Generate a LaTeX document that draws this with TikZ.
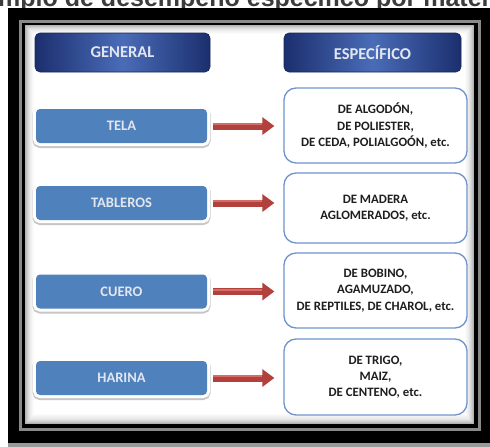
\documentclass[tikz,border=0pt]{standalone}
\usepackage{fontspec}
\setmainfont{Carlito}
\newfontfamily\titlefont{Liberation Sans}
\usetikzlibrary{arrows.meta}
\definecolor{navy}{HTML}{1B2F6E}
\definecolor{navymid}{HTML}{4A6CB8}
\definecolor{boxblue}{HTML}{4F81BD}
\definecolor{specline}{HTML}{6F93CF}
\definecolor{arrred}{HTML}{B2403C}
\definecolor{arrlight}{HTML}{D46C68}
\definecolor{titlegray}{HTML}{3C3C3C}
\definecolor{framegray}{HTML}{8A8A8A}
\definecolor{bandgray}{HTML}{9A9A9A}
\definecolor{headtext}{HTML}{E2E6EF}
\definecolor{spectext}{HTML}{1E1E1E}
\tikzset{
  header/.style={rectangle, rounded corners=5pt, minimum height=39pt,
    left color=navy, right color=navy, middle color=navymid,
    draw=navy!80!black, line width=0.6pt, text=headtext,
    font=\bfseries\fontsize{16.5}{19}\selectfont},
  genbox/.style={rectangle, rounded corners=4pt, minimum width=171pt, minimum height=34pt,
    fill=boxblue, text=headtext, font=\bfseries\fontsize{14.5}{17}\selectfont,
    preaction={draw=gray!45, line width=7pt, transform canvas={yshift=-1.5pt}},
    preaction={draw=white, line width=6pt}},
  specbox/.style={rectangle, rounded corners=12pt, minimum width=183pt,
    fill=white, draw=specline, line width=1.3pt, text=spectext, align=center,
    font=\bfseries\fontsize{12.8}{16.2}\selectfont},
  arr/.style={draw=arrred, line width=7pt, -{Triangle[width=17pt,length=12pt]}},
}
\begin{document}
\begin{tikzpicture}[x=1pt,y=-1pt]
\clip (0,0) rectangle (490,447);
\fill[white] (0,0) rectangle (490,447);
\node[anchor=base west, inner sep=0, text=titlegray,
  font=\titlefont\bfseries\fontsize{25}{30}\selectfont] (title) at (-39.5,6)
  {Ejemplo de desempeño específico por material};
% frame
\fill[black] (8,8) rectangle (490,443);
\fill[bandgray] (8,443) rectangle (490,447);
\draw[framegray, line width=2.5pt] (20.5,21.5) rectangle (479.5,429.5);
% interior with inner shadow
\foreach \i/\p in {0/60,1/48,2/38,3/29,4/21,5/15,6/10,7/6,8/3,9/0}{
  \fill[gray!\p] (25+\i,25+\i) rectangle (474-\i,424-\i*1.1);
}
% headers
\node[header, minimum width=175pt] (gen) at (122.5,52.5) {GENERAL};
\node[header, minimum width=177pt] (esp) at (372.5,52.5) {ESPECÍFICO};
% general boxes
\node[genbox] (tela) at (121.5,126) {TELA};
\node[genbox] (tab) at (121.5,203) {TABLEROS};
\node[genbox] (cue) at (121.5,291.5) {CUERO};
\node[genbox] (har) at (121.5,378) {HARINA};
% specific boxes
\node[specbox, minimum height=75pt] (s1) at (375.5,125.5)
  {DE ALGODÓN,\\DE POLIESTER,\\DE CEDA, POLIALGOÓN, etc.};
\node[specbox, minimum height=70pt] (s2) at (375.5,208)
  {DE MADERA\\AGLOMERADOS, etc.};
\node[specbox, minimum height=75pt] (s3) at (375.5,290.5)
  {DE BOBINO,\\AGAMUZADO,\\DE REPTILES, DE CHAROL, etc.};
\node[specbox, minimum height=76pt] (s4) at (375.5,377)
  {DE TRIGO,\\MAIZ,\\DE CENTENO, etc.};
% arrows
\foreach \a/\b in {tela/s1, tab/s2, cue/s3, har/s4}{
  \draw[arr] ([xshift=6pt]\a.east) -- ([xshift=-9pt]\a.east -| \b.west);
  \draw[arrlight, line width=2pt] ([xshift=6pt,yshift=1.8pt]\a.east) -- ([xshift=-21pt,yshift=1.8pt]\a.east -| \b.west);
}
\end{tikzpicture}
\end{document}
